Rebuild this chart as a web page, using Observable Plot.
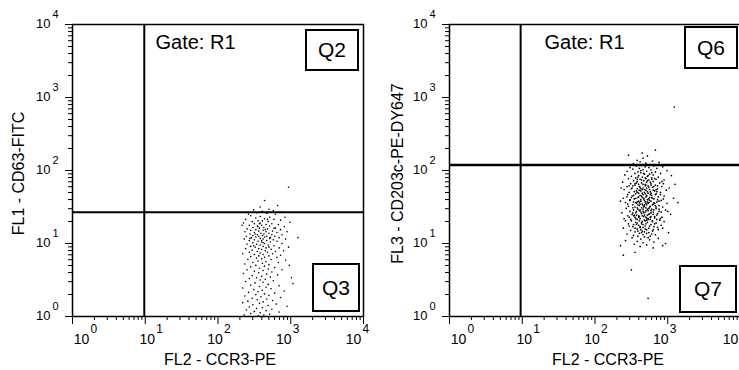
<!DOCTYPE html>
<html>
<head>
<meta charset="utf-8">
<script src="https://cdn.jsdelivr.net/npm/d3@7"></script>
<script src="https://cdn.jsdelivr.net/npm/@observablehq/plot@0.6"></script>
<style>
  html, body { margin: 0; padding: 0; background: #fff; overflow: hidden; }
  #wrap { position: relative; width: 739px; height: 370px; overflow: hidden; background: #fff; font-family: "Liberation Sans", Arial, sans-serif; }
  .panel { position: absolute; top: 0; }
  .qbox { position: absolute; box-sizing: border-box; border: 2px solid #000; display: flex; align-items: center; justify-content: center; font-size: 21px; color: #000; background: #fff; }
</style>
</head>
<body>
<div id="wrap"></div>
<script>
// ---------- data (log10 of fluorescence) ----------
const tickValues = [1, 10, 100, 1000, 10000];
const tickExponents = ["0", "1", "2", "3", "4"];
const minorMultipliers = [2, 3, 4, 5, 6, 7, 8, 9];
const minorDecades = [1, 10, 100, 1000];

const leftTitleX = "FL2 - CCR3-PE";
const leftTitleY = "FL1 - CD63-FITC";
const rightTitleX = "FL2 - CCR3-PE";
const rightTitleY = "FL3 - CD203c-PE-DY647";
const gateLabel = "Gate: R1";
const leftQuadrants = ["Q2", "Q3"];
const rightQuadrants = ["Q6", "Q7"];

const leftGate = { x: 9.7, y: 26.8 };
const rightGate = { x: 9.5, y: 119 };

// Left panel events: [log10 FL2, log10 FL1]
const leftEvents = [
[2.64,1.59],[2.82,1.52],[2.97,1.77],[2.58,1.50],[2.70,1.47],[2.49,1.46],[2.76,1.45],[2.61,1.44],[2.88,1.43],[2.53,1.42],[2.67,1.41],[2.42,1.40],[2.79,1.40],
[2.45,1.38],[2.58,1.37],[2.71,1.36],[2.92,1.36],[2.52,1.35],[2.64,1.34],[2.38,1.33],[2.77,1.33],[2.86,1.32],[2.55,1.31],[2.61,1.31],[2.47,1.30],[2.69,1.30],[2.99,1.29],[2.35,1.28],[2.58,1.28],[2.74,1.27],[2.50,1.27],[2.66,1.26],[2.83,1.26],[2.43,1.25],[2.60,1.25],[2.33,1.25],[2.54,1.24],[2.71,1.24],[2.91,1.23],[2.48,1.22],[2.63,1.22],[2.79,1.21],[2.57,1.21],[2.40,1.20],[2.68,1.20],[2.52,1.19],[2.86,1.19],[2.62,1.18],[2.45,1.18],[2.75,1.17],[2.56,1.17],[2.95,1.16],[2.37,1.16],[2.66,1.16],[2.50,1.15],[2.81,1.15],[2.59,1.14],[2.70,1.14],[2.44,1.13],[2.63,1.13],[2.54,1.12],[2.88,1.12],[2.74,1.12],[2.48,1.11],[2.61,1.11],[2.39,1.10],[2.67,1.10],[2.78,1.10],[2.56,1.10],
[2.52,1.09],[2.64,1.09],[2.84,1.08],[2.46,1.08],[3.10,1.08],[2.71,1.07],[2.58,1.07],[2.36,1.06],[2.62,1.06],[2.93,1.06],[2.50,1.05],[2.76,1.05],[2.67,1.04],[2.43,1.04],[2.55,1.03],[2.81,1.03],[2.60,1.02],[2.72,1.02],[2.48,1.01],[2.64,1.00],[2.88,1.00],[2.53,0.99],[2.40,0.99],[2.69,0.98],[2.58,0.98],[2.77,0.97],[2.45,0.96],[2.62,0.96],[2.97,0.95],[2.51,0.95],[2.66,0.94],[2.84,0.94],[2.56,0.93],[2.38,0.93],[2.73,0.92],[2.60,0.92],[2.47,0.91],[2.65,0.90],[2.90,0.90],[2.54,0.89],[2.79,0.89],[2.43,0.88],[2.68,0.88],[2.58,0.87],[2.34,0.86],[2.75,0.86],[2.62,0.85],[2.50,0.85],[2.86,0.84],[2.56,0.83],[2.70,0.83],[2.45,0.82],[2.64,0.81],[2.81,0.81],[2.53,0.80],
[2.60,0.79],[2.41,0.78],[2.73,0.78],[2.93,0.77],[2.55,0.76],[2.66,0.75],[2.48,0.74],[2.83,0.74],[2.61,0.73],[2.37,0.72],[2.70,0.71],[2.52,0.70],[2.98,0.70],[2.64,0.69],[2.45,0.68],[2.78,0.67],[2.57,0.66],[2.69,0.65],[2.40,0.64],[2.88,0.64],[2.62,0.63],[2.50,0.62],[2.74,0.61],[2.56,0.60],[2.35,0.59],[2.67,0.58],[2.82,0.57],[2.47,0.56],[2.60,0.55],[2.72,0.54],[2.53,0.53],[3.01,0.53],[2.43,0.52],[2.65,0.51],[2.58,0.50],
[2.76,0.49],[2.38,0.48],[2.62,0.47],[2.51,0.46],[3.03,0.45],[2.69,0.44],[2.45,0.43],[2.84,0.42],[2.57,0.41],[2.66,0.40],[2.34,0.39],[2.73,0.38],[2.49,0.37],[2.61,0.36],[2.91,0.35],[2.55,0.34],[2.42,0.33],[2.78,0.32],[2.64,0.31],[2.52,0.30],[2.70,0.29],[2.37,0.28],[2.59,0.27],[2.86,0.26],[2.47,0.25],[2.67,0.24],[2.54,0.23],[2.75,0.22],[2.41,0.21],[2.62,0.20],
[2.34,0.19],[2.57,0.18],[2.80,0.17],[2.48,0.16],[2.69,0.15],[2.95,0.14],[2.43,0.13],[2.61,0.12],[2.53,0.11],[2.74,0.10],[2.39,0.09],[2.66,0.08],[2.50,0.07],[2.84,0.06],[2.58,0.05],[2.45,0.04],[2.71,0.03],[2.63,0.02],[2.36,0.02],[2.55,0.01],
[2.57,1.27],[2.65,1.19],[2.51,1.13],[2.72,1.08],[2.60,1.04],[2.49,0.97],[2.70,0.95],[2.55,1.23],[2.68,1.33],[2.62,1.01],[2.44,1.07],[2.77,1.21]
];

// Right panel events: [log10 FL2, log10 FL3]
const rightEvents = [
[2.83,2.28],[2.46,2.21],[2.65,2.24],[2.66,2.17],[2.72,2.20],[2.58,2.14],[2.79,2.13],[2.62,2.12],[2.88,2.11],[2.70,2.10],[2.53,2.09],[2.76,2.08],
[2.64,2.07],[2.81,2.06],[2.57,2.06],[2.93,2.05],[2.69,2.05],[2.48,2.04],[2.74,2.04],[2.61,2.03],[2.85,2.03],[2.52,2.02],[2.77,2.01],[2.66,2.01],[2.99,2.00],[2.44,1.99],[2.71,1.99],[2.59,1.98],[2.83,1.98],[2.63,1.97],[2.90,1.96],[2.55,1.96],[2.75,1.95],[2.68,1.95],[2.41,1.94],[2.80,1.94],[2.60,1.93],[3.05,1.93],[2.72,1.92],[2.50,1.92],[2.87,1.91],[2.65,1.91],[2.78,1.90],[2.56,1.90],
[2.70,1.89],[2.46,1.89],[2.84,1.88],[2.62,1.88],[2.95,1.87],[2.74,1.87],[2.53,1.86],[2.67,1.86],[2.80,1.85],[2.58,1.85],[2.38,1.84],[2.71,1.84],[2.89,1.83],[2.64,1.83],[2.49,1.82],[2.77,1.82],[2.60,1.81],[3.10,1.81],[2.83,1.80],[2.55,1.80],[2.69,1.79],[2.73,1.79],[2.44,1.78],[2.92,1.78],[2.62,1.77],[2.79,1.77],[2.51,1.76],[2.66,1.76],[2.86,1.75],[2.58,1.75],[2.75,1.74],[2.40,1.74],[2.70,1.73],[2.98,1.73],[2.63,1.72],[2.82,1.72],[2.54,1.71],[2.76,1.71],[2.47,1.70],[2.68,1.70],[2.90,1.70],[2.60,1.69],
[2.72,1.86],[2.57,1.83],[2.81,1.78],[2.65,1.74],[2.94,1.82],[2.52,1.79],[2.78,1.88],[2.36,1.76],[3.02,1.76],[2.69,1.81],[2.61,1.73],[2.85,1.71],
[2.73,1.69],[2.56,1.68],[2.84,1.68],[2.66,1.67],[2.45,1.67],[2.78,1.66],[2.62,1.66],[2.95,1.65],[2.51,1.65],[2.70,1.64],[2.87,1.64],[2.59,1.63],[2.75,1.63],[2.39,1.62],[2.67,1.62],[3.08,1.62],[2.81,1.61],[2.54,1.61],[2.72,1.60],[2.63,1.60],[2.91,1.59],[2.48,1.59],[2.77,1.58],[2.60,1.58],[2.85,1.57],[2.69,1.57],[2.42,1.56],[2.74,1.56],[2.57,1.55],[2.99,1.55],[2.65,1.54],[2.80,1.54],[2.52,1.53],[2.71,1.53],[2.88,1.52],[2.61,1.52],[2.46,1.51],[2.76,1.51],[2.67,1.50],[2.93,1.50],[2.55,1.50],
[2.69,1.68],[2.79,1.62],[2.58,1.57],[2.83,1.52],[2.64,1.65],[2.73,1.55],[2.50,1.63],[2.90,1.67],[2.35,1.58],[2.62,1.54],[2.77,1.69],[2.68,1.59],[3.14,1.56],[2.44,1.64],[2.86,1.60],[2.71,1.66],[2.53,1.57],[2.81,1.56],[2.66,1.52],[2.74,1.61],
[2.70,1.49],[2.58,1.49],[2.84,1.48],[2.43,1.48],[2.66,1.47],[2.78,1.47],[2.53,1.46],[2.97,1.46],[2.73,1.45],[2.61,1.45],[2.88,1.44],[2.48,1.44],[2.69,1.43],[2.80,1.43],[2.56,1.42],[2.37,1.42],[2.75,1.41],[2.64,1.41],[3.04,1.40],[2.51,1.40],[2.72,1.39],[2.85,1.39],[2.60,1.38],[2.45,1.38],[2.77,1.37],[2.67,1.37],[2.92,1.36],[2.55,1.36],[2.71,1.35],[2.82,1.35],[2.62,1.34],[2.40,1.34],[2.76,1.33],[2.58,1.33],[2.89,1.32],[2.68,1.32],[2.50,1.31],[2.79,1.31],[2.65,1.30],[2.95,1.30],
[2.74,1.48],[2.63,1.43],[2.86,1.41],[2.57,1.39],[2.70,1.36],[2.81,1.46],[2.47,1.36],[2.66,1.44],[2.77,1.42],[2.53,1.38],[2.90,1.34],[2.61,1.31],[3.00,1.44],[2.42,1.31],[2.73,1.33],
[2.72,1.29],[2.56,1.29],[2.84,1.28],[2.64,1.27],[2.46,1.27],[2.77,1.26],[2.60,1.25],[2.91,1.25],[2.69,1.24],[2.52,1.23],[2.81,1.23],[2.66,1.22],[2.39,1.21],[2.74,1.21],[2.58,1.20],[2.87,1.19],[2.63,1.19],[2.49,1.18],[2.79,1.17],[2.68,1.16],[2.55,1.16],[3.01,1.15],[2.71,1.14],[2.61,1.14],[2.44,1.13],[2.83,1.12],[2.66,1.12],[2.53,1.11],[2.76,1.10],[2.59,1.10],
[2.70,1.27],[2.62,1.22],[2.80,1.19],[2.57,1.26],[2.74,1.15],[2.47,1.24],[2.93,1.21],[2.65,1.17],
[2.68,1.09],[2.51,1.08],[2.87,1.07],[2.63,1.06],[2.75,1.05],[2.42,1.04],[2.58,1.03],[2.81,1.02],[2.66,1.01],[2.97,1.00],[2.54,0.99],[2.71,0.98],[2.35,0.97],[2.62,0.96],
[3.09,2.87],[2.50,0.64],[2.73,0.25],[2.39,0.84],[2.55,0.88],[2.93,0.97],[2.80,0.94],
[2.67,1.96],[2.73,1.93],[2.59,1.91],[2.82,1.89],[2.64,1.87],[2.76,1.84],[2.55,1.82],[2.70,1.80],[2.86,1.79],[2.61,1.78],[2.74,1.77],[2.50,1.75],[2.68,1.74],[2.80,1.73],[2.57,1.72],[2.72,1.71],[2.65,1.69],[2.83,1.67],[2.53,1.66],[2.71,1.65],[2.60,1.64],[2.78,1.63],[2.67,1.61],[2.48,1.60],[2.75,1.59],[2.63,1.58],[2.88,1.58],[2.56,1.56],[2.70,1.55],[2.79,1.53],[2.59,1.53],[2.68,1.51],[2.84,1.50],[2.52,1.49],[2.72,1.47],[2.62,1.46],[2.77,1.45],[2.57,1.44],[2.91,1.43],[2.67,1.42],[2.74,1.40],[2.54,1.39],[2.65,1.38],[2.82,1.37],[2.60,1.36],[2.73,1.34],[2.49,1.33],[2.69,1.31],[2.79,1.30],[2.58,1.28],[2.66,1.26],[2.75,1.24],[2.62,1.23],[2.86,1.22],[2.55,1.21],[2.71,1.19],[2.64,1.15],[2.78,1.13],
[2.63,2.00],[2.78,1.97],[2.69,1.90],[2.58,1.88],[2.92,1.85],[2.66,1.81],[2.77,1.80],[2.47,1.79],[2.63,1.75],[2.84,1.74],[2.71,1.76],[2.58,1.70],[2.76,1.67],[2.65,1.63],[2.94,1.61],[2.56,1.62],[2.72,1.57],[2.61,1.56],[2.82,1.55],[2.68,1.53],[2.45,1.54],[2.75,1.50],[2.64,1.49],[2.88,1.47],[2.59,1.47],[2.70,1.45],[2.80,1.40],[2.52,1.42],[2.68,1.39],[2.61,1.37],[2.76,1.36],[2.85,1.33],[2.56,1.34],[2.71,1.32],[2.64,1.29],[2.82,1.27],[2.53,1.26],[2.69,1.20],[2.59,1.17],[2.73,1.08]
];

// ---------- rendering ----------
const FONT = "Liberation Sans, Arial, Helvetica, sans-serif";
const minorTicks = minorDecades.flatMap(d => minorMultipliers.map(m => m * d));
const xLabelNudge = [9, 2, -3, -7, -10];

function panel(events, gate, titleX, titleY, opts) {
  const xLabels = tickValues.flatMap((t, i) => [
    Plot.text([t], {x: d => d, frameAnchor: "bottom", dy: 23, dx: xLabelNudge[i], text: () => "10", fontSize: 14, textAnchor: "middle", lineAnchor: "middle", fill: "#000"}),
    Plot.text([t], {x: d => d, frameAnchor: "bottom", dy: 13, dx: xLabelNudge[i] + 9, text: () => tickExponents[i], fontSize: 12, textAnchor: "start", lineAnchor: "middle", fill: "#000"})
  ]);
  return Plot.plot({
    width: opts.width,
    height: 370,
    marginLeft: opts.marginLeft,
    marginRight: opts.marginRight,
    marginTop: 24,
    marginBottom: 54,
    x: {type: "log", domain: [1, 10000]},
    y: {type: "log", domain: [1, 10000]},
    style: {fontFamily: FONT, background: "transparent", overflow: "visible", color: "#000"},
    marks: [
      Plot.dot(events, {x: d => 10 ** d[0], y: d => 10 ** d[1], r: opts.dotR, fill: "#000", stroke: null}),
      Plot.ruleX([gate.x], {stroke: "#000", strokeWidth: 2}),
      Plot.ruleY([gate.y], {stroke: "#000", strokeWidth: opts.gateYWidth}),
      Plot.frame({stroke: "#000", strokeWidth: 1.5}),
      Plot.axisX(tickValues, {tickSize: 8, tickFormat: () => "", label: null, stroke: "#000"}),
      Plot.axisX(minorTicks, {tickSize: 4, tickFormat: () => "", label: null, stroke: "#000"}),
      Plot.axisY(tickValues, {tickSize: 7, tickFormat: () => "", label: null, stroke: "#000"}),
      Plot.axisY(minorTicks, {tickSize: 4, tickFormat: () => "", label: null, stroke: "#000"}),
      ...xLabels,
      Plot.text(tickValues, {y: d => d, frameAnchor: "left", dx: -22, dy: -1, text: () => "10", fontSize: 13, textAnchor: "end", lineAnchor: "middle", fill: "#000"}),
      Plot.text(tickValues, {y: d => d, frameAnchor: "left", dx: -20, dy: -10, text: (d, i) => tickExponents[i], fontSize: 11, textAnchor: "start", lineAnchor: "middle", fill: "#000"}),
      Plot.text([titleX], {frameAnchor: "bottom", dy: 43, dx: opts.titleXdx, text: d => d, fontSize: 16, textAnchor: "middle", lineAnchor: "middle", fill: "#000"}),
      Plot.text([titleY], {frameAnchor: "left", dx: opts.titleYdx, dy: 3, rotate: -90, text: d => d, fontSize: 16, textAnchor: "middle", lineAnchor: "middle", fill: "#000"}),
      Plot.text([gateLabel], {frameAnchor: "top-left", dx: opts.gateDx, dy: 18.5, text: d => d, fontSize: 20, textAnchor: "start", lineAnchor: "middle", fill: "#000"})
    ]
  });
}

const wrap = document.getElementById("wrap");

const left = panel(leftEvents, leftGate, leftTitleX, leftTitleY,
  {width: 369, marginLeft: 72, marginRight: 6, titleXdx: 2, titleYdx: -54, gateDx: 83, gateYWidth: 2, dotR: 0.8});
left.classList.add("panel");
left.style.left = "0px";
wrap.appendChild(left);

const right = panel(rightEvents, rightGate, rightTitleX, rightTitleY,
  {width: 371, marginLeft: 80, marginRight: 0, titleXdx: 13, titleYdx: -52, gateDx: 95, gateYWidth: 2.5, dotR: 0.85});
right.classList.add("panel");
right.style.left = "369px";
wrap.appendChild(right);

// quadrant labels
function qbox(label, l, t, w, h) {
  const d = document.createElement("div");
  d.className = "qbox";
  d.style.left = l + "px"; d.style.top = t + "px";
  d.style.width = w + "px"; d.style.height = h + "px";
  d.textContent = label;
  wrap.appendChild(d);
}
qbox(leftQuadrants[0], 305, 29, 54, 42);
qbox(leftQuadrants[1], 312, 263, 48, 49);
qbox(rightQuadrants[0], 684, 26, 54, 43);
qbox(rightQuadrants[1], 679, 265, 58, 48);
</script>
</body>
</html>
